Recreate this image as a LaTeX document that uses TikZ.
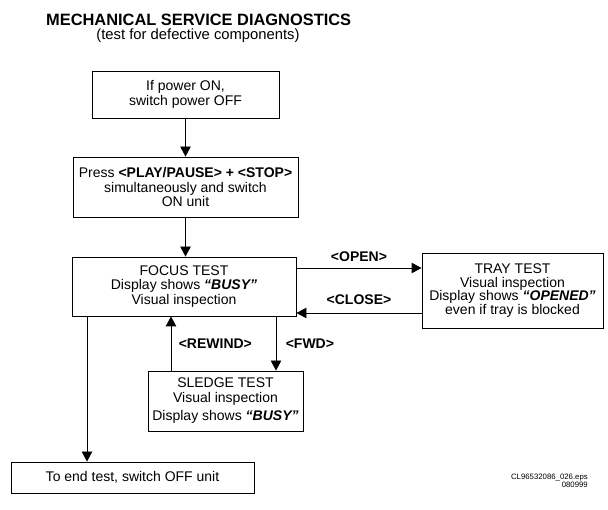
\documentclass[tikz,border=0pt]{standalone}
\usepackage{fontspec}
\setmainfont{Liberation Sans}
\usepackage{tikz}
\usetikzlibrary{arrows.meta}

\begin{document}
\begin{tikzpicture}[x=1pt, y=-1pt,
    box/.style={draw, line width=0.9pt, align=center, inner sep=2pt,
        font=\fontsize{14}{14.5}\selectfont},
    arr/.style={line width=0.9pt, -{Triangle[length=10pt, width=10.5pt]}},
    key/.style={font=\fontsize{14}{14.5}\selectfont\bfseries}]
    \useasboundingbox (0,0) rectangle (608,510);
    \node[anchor=base west, inner sep=0pt, font=\fontsize{16.4}{17}\selectfont\bfseries] (title) at (46,26)
        {MECHANICAL SERVICE DIAGNOSTICS};
    \node[anchor=base, inner sep=0pt, font=\fontsize{14.8}{15}\selectfont] (subtitle) at (198,40)
        {(test for defective components)};
    \node[box, minimum width=187pt, minimum height=47pt] (power) at (185.5,94.5)
        {If power ON,\\switch power OFF};
    \node[box, minimum width=225pt, minimum height=60pt] (press) at (185.5,187)
        {Press \textbf{<PLAY/PAUSE> + <STOP>}\\simultaneously and switch\\ON unit};
    \node[box, minimum width=224pt, minimum height=59pt] (focus) at (184,286.5)
        {FOCUS TEST\\Display shows \textbf{\textit{“BUSY”}}\\Visual inspection};
    \node[box, minimum width=181pt, minimum height=75pt,
        font=\fontsize{14}{13.5}\selectfont] (tray) at (512.5,290.5)
        {TRAY TEST\\Visual inspection\\Display shows \textbf{\textit{“OPENED”}}\\even if tray is blocked};
    \node[box, minimum width=155pt, minimum height=60pt] (sledge) at (225.5,401)
        {SLEDGE TEST\\Visual inspection\\[4pt]Display shows \textbf{\textit{“BUSY”}}};
    \node[box, minimum width=243pt, minimum height=31pt] (endtest) at (132.5,477.5)
        {To end test, switch OFF unit};
    \node[anchor=base east, align=right, inner sep=0pt,
        font=\fontsize{7.8}{8.8}\selectfont] (ref) at (588,488)
        {CL96532086\_026.eps\\080999};

    \draw[arr] (power) -- (press);
    \draw[arr] (press.south) -- (press.south |- focus.north);
    \draw[arr] ([yshift=18.5pt]focus.east) -- ([yshift=18.5pt]focus.east -| tray.west)
        node[key, midway, above=3pt] {<OPEN>};
    \draw[arr] ([yshift=-22.5pt]tray.west -| tray.west) -- ([yshift=-26.5pt]focus.east)
        node[key, midway, above=5pt] {<CLOSE>};
    \draw[arr] ([xshift=-54.5pt]sledge.north) -- ([xshift=-54.5pt]sledge.north |- focus.south)
        node[key, midway, right=4pt] {<REWIND>};
    \draw[arr] ([xshift=92pt]focus.south) -- ([xshift=92pt]focus.south |- sledge.north)
        node[key, midway, right=6pt] {<FWD>};
    \draw[arr] ([xshift=-97pt]focus.south) -- ([xshift=-97pt]focus.south |- endtest.north);
\end{tikzpicture}
\end{document}
